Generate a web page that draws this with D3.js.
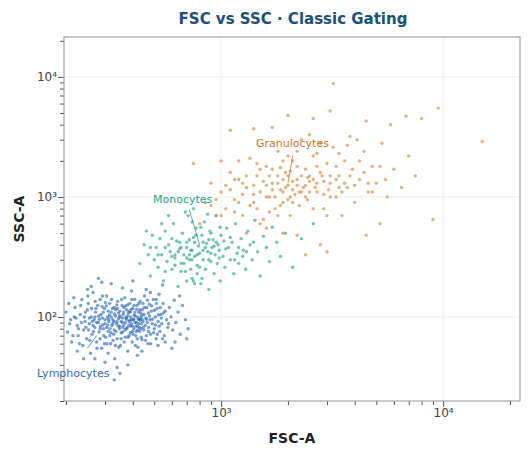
<!DOCTYPE html>
<html><head><meta charset="utf-8">
<script src="https://cdn.jsdelivr.net/npm/d3@7"></script>
<style>body{margin:0;background:#fff;font-family:"DejaVu Sans",sans-serif}</style>
</head><body><svg id="c" width="531" height="458"></svg>
<script>
const lymphocytes = [
[210,95],[215,70],[220,120],[225,85],[230,60],[232,105],[236,140],[240,78],[244,92],[248,66],[250,115],[252,130],[255,88],[258,50],[260,100],[262,72],[265,160],[268,95],[270,82],[272,110],[275,62],[278,125],[280,90],[282,75],[285,140],[288,105],[290,55],[292,98],[295,80],[298,118],[300,88],[302,68],[305,150],[308,100],[310,76],[312,92],[315,130],[318,60],[320,110],[322,85],[325,95],[328,72],[330,120],[332,45],[335,102],[338,88],[340,66],[342,135],[345,97],[348,80],[350,112],[352,58],[355,92],[358,125],[360,75],[362,105],[365,86],[368,145],[370,68],[372,98],[375,115],[378,82],[380,52],[382,108],[385,92],[388,130],[390,74],[392,100],[395,88],[398,62],[400,118],[402,95],[405,80],[408,140],[410,102],[412,70],[415,90],[418,125],[420,84],[422,56],[425,110],[428,96],[430,76],[432,135],[435,100],[438,88],[440,65],[442,115],[445,92],[448,78],[450,105],[452,150],[455,85],[458,98],[460,70],[462,120],[465,90],[468,60],[470,108],[472,82],[475,128],[478,95],[480,72],[485,112],[490,88],[495,140],[500,80],[505,100],[510,66],[515,118],[520,92],[525,155],[530,76],[535,105],[540,88],[548,130],[555,70],[560,112],[568,95],[575,82],[585,120],[595,100],[605,78],[615,138],[625,90],[640,110],[655,72],[670,125],[690,95],[710,80],
[225,52],[240,45],[260,180],[280,210],[300,42],[320,190],[340,38],[360,175],[380,40],[400,200],[420,48],[460,170],[520,58],[560,62],[600,55],[650,150],[700,66],[350,34],[330,30],[290,195],[250,170],[270,45],[310,50],[395,165],[440,52],[480,160],[510,140],[580,88],[620,62],[545,185],
[300,95],[305,82],[310,112],[315,70],[320,100],[325,88],[330,78],[335,115],[340,92],[345,108],[350,84],[355,74],[360,98],[365,120],[370,90],[375,80],[380,102],[385,70],[390,110],[395,95],[400,84],[405,125],[410,90],[415,76],[420,100],[425,88],[430,115],[435,80],[440,96],[445,130],[270,100],[275,90],[285,80],[295,110],[265,85],[255,98],[245,110],[235,90],[228,80],[218,100],
[200,110],[203,75],[206,130],[208,88],[212,62],[217,145],[222,98],[227,70],[233,125],[238,58],[242,100],[246,82],[251,150],[256,64],[261,118],[266,76],[271,135],[276,55],[281,102],[286,84],[291,122],[296,70],[301,132],[306,60],[311,96],[316,80],[321,140],[326,64],[331,106],[336,76],[341,118],[346,56],[351,100],[356,140],[361,82],[366,62],[371,124],[376,96],[381,68],[386,112],[391,84],[396,140],[401,72],[406,104],[411,58],[416,116],[421,78],[426,130],[431,94],[436,68],[441,104],[446,82],[451,120],[456,64],[461,96],[466,138],[471,76],[476,102],[481,60],[486,124],[491,96],[496,74],[501,114],[506,86],[511,130],[516,72],[521,104],[526,84],[532,120],[538,98],[544,66],[550,108],[285,66],[292,150],[298,60],[304,124],[309,86],[314,104],[319,74],[324,118],[329,92],[334,58],[339,126],[344,84],[349,102],[354,66],[359,90],[364,110],[369,78],[374,100],[379,126],[384,86],[389,94],[394,116],[399,76],[404,96],[409,110],[414,84],[419,66],[424,96],[429,82],[434,108],[253,78],[263,92],[273,118],[283,96],[293,86]
];
const monocytes = [
[430,280],[450,400],[470,330],[480,220],[490,480],[500,300],[510,380],[520,260],[530,450],[540,330],[550,200],[560,520],[570,290],[580,400],[590,350],[600,250],[610,600],[620,310],[630,430],[640,180],[650,370],[660,280],[670,500],[680,330],[690,240],[700,420],[710,700],[720,300],[730,360],[740,210],[750,460],[760,320],[770,550],[780,270],[790,390],[800,340],[810,190],[820,480],[830,300],[840,620],[850,250],[860,410],[870,350],[880,170],[890,520],[900,290],[910,380],[920,440],[930,230],[940,330],[950,700],[960,280],[970,400],[980,360],[990,200],[1000,480],[1020,320],[1040,260],[1060,550],[1080,380],[1100,300],[1120,420],[1140,230],[1160,600],[1180,340],[1200,280],[1230,450],[1260,360],[1290,250],[1320,520],[1350,400],[1380,300],[1420,640],[1460,350],[1500,220],[1550,470],[1600,380],[1650,290],[1700,560],[1780,420],[1850,320],[1950,500],[2100,260],[2300,450],[2600,600],[650,420],[700,380],[720,330],[760,420],[680,280],[740,300],[800,260],[850,380],[640,350],[600,450],[560,380],[700,200],[760,190],[820,210],[900,340],[950,420],[1050,370],[1100,460],[1200,380],[1250,320],[580,700],[690,750],[750,800],[870,720],[540,600],[460,520],
[620,330],[660,380],[700,310],[740,360],[780,330],[830,360],[880,300],[930,390],[980,310],[1030,430],[730,250],[780,230],[830,420],[880,440],[660,240],[620,270],[600,320],[720,440],[770,480],[1150,300],[1300,350],[1400,420],[990,560],[900,500],[810,560],[740,620],[520,330],[480,380],[560,240],[750,200]
];
const granulocytes = [
[800,600],[850,900],[900,1300],[950,700],[1000,1100],[1050,800],[1100,1600],[1150,950],[1200,1400],[1250,700],[1300,1200],[1350,2100],[1400,900],[1450,1500],[1500,1100],[1550,650],[1600,1800],[1650,1000],[1700,1300],[1750,800],[1800,2400],[1850,1150],[1900,900],[1950,1600],[2000,1250],[2050,700],[2100,2000],[2150,1050],[2200,1400],[2250,850],[2300,3000],[2350,1200],[2400,1700],[2450,950],[2500,1350],[2600,2200],[2700,1100],[2800,1600],[2900,800],[3000,1900],[3100,1300],[3200,2600],[3300,1000],[3400,1500],[3500,700],[3600,2000],[3700,1200],[3800,3200],[3900,1700],[4000,900],[4200,1400],[4400,2400],[4600,1100],[4800,1800],[5000,1300],[5300,2800],[5600,1000],[6000,1700],[6500,1200],[7000,2200],[7500,1500],[8000,4500],[9000,650],[9500,5500],[15000,2900],[5200,600],[4500,480],[3000,350],[2800,400],[2400,330],[2200,480],[1900,500],[1600,550],[1400,3700],[1200,2000],[1100,3600],[2000,4800],[2600,4500],[3200,8800],[3100,5200],[4500,4300],[6800,4700],[5800,4000],[1700,3800],[1000,2000],[750,1900],[1300,500],[1500,600],[1800,700],[2100,900],[2300,1100],[2500,1500],[2700,1300],[2900,1050],[3100,1500],[3300,1800],[3500,1100],[2000,1500],[1800,1300],[1600,1000],[1400,1250],[1700,1700],[1900,1100],[2100,1350],[2200,1800],[2400,1250],[1750,1000],[1850,850],[1950,1200],[2050,1000],[1550,1350],[1650,750],[1350,850],[1250,1050],[1150,750],[950,950],[2600,800],[3000,700],[3400,1200],[3800,1500],[4200,2000],[4600,1300],[5200,1800],[2800,2800],[2500,3300],[2200,2400],[1900,2000],[3700,2700],[4100,3000],[1450,1900],[1050,1250],[900,850],
[1300,1500],[1500,1700],[1700,1150],[1900,1400],[2100,1150],[2300,1500],[2500,1100],[2700,1800],[2900,1350],[3100,1000],[3300,1400],[1600,1250],[1800,1500],[2000,950],[2200,1250],[2400,1000],[2600,1400],[1400,1050],[1200,900],[1100,1150],[1250,1300],[1450,800],[1650,1500],[1850,1750],[2050,1650],[2250,1100],[2450,1450],[2650,1200],[2850,1500],[3050,1150],[3600,1300],[4000,1250],[4400,1600],[4800,1100],[5500,1400],[1000,700],[1150,1400],[2000,2200],[2700,2300],[3400,2300]
];
const xTicks=[1000,10000], yTicks=[100,1000,10000];
const svg=d3.select("#c");
const m={l:64,r:11,t:37,b:57},W=531,H=458;
const x=d3.scaleLog().domain([196,22200]).range([m.l,W-m.r]);
const y=d3.scaleLog().domain([20,21500]).range([H-m.b,m.t]);
svg.append("text").attr("x",293).attr("y",24).attr("text-anchor","middle").attr("font-size",15).attr("font-weight","bold").attr("fill","#1f4e79").text("FSC vs SSC · Classic Gating");
const g=svg.append("g");
xTicks.forEach(t=>g.append("line").attr("x1",x(t)).attr("x2",x(t)).attr("y1",m.t).attr("y2",H-m.b).attr("stroke","#eee"));
yTicks.forEach(t=>g.append("line").attr("y1",y(t)).attr("y2",y(t)).attr("x1",m.l).attr("x2",W-m.r).attr("stroke","#eee"));
const sup=t=>"10"+"⁰¹²³⁴"[Math.round(Math.log10(t))];
const xa=svg.append("g").attr("transform",`translate(0,${H-m.b})`).call(d3.axisBottom(x).tickValues(x.ticks().filter(t=>t>=196)).tickFormat(t=>xTicks.includes(t)?sup(t):"").tickSize(4));
const ya=svg.append("g").attr("transform",`translate(${m.l},0)`).call(d3.axisLeft(y).tickValues(y.ticks()).tickFormat(t=>yTicks.includes(t)?sup(t):"").tickSize(4));
[xa,ya].forEach(a=>{a.select(".domain").remove();a.selectAll("line").attr("stroke","#555");a.selectAll("text").attr("font-size",12).attr("fill","#444").attr("font-family","DejaVu Sans");});
xa.selectAll(".tick").filter(t=>xTicks.includes(t)).select("line").attr("y2",6);
ya.selectAll(".tick").filter(t=>yTicks.includes(t)).select("line").attr("x2",-6);
const groups=[[lymphocytes,"#2e6bb5"],[monocytes,"#26a38c"],[granulocytes,"#d8843c"]];
groups.forEach(([d,c])=>svg.append("g").selectAll("circle").data(d).join("circle").attr("cx",p=>x(p[0])).attr("cy",p=>y(p[1])).attr("r",1.7).attr("fill",c).attr("opacity",0.65));
svg.append("rect").attr("x",m.l).attr("y",m.t).attr("width",W-m.l-m.r).attr("height",H-m.t-m.b).attr("fill","none").attr("stroke","#8a949e");
const ann=[["Lymphocytes",37,377,"#2e6bb5",[[250,55],[275,70]]],["Monocytes",153,203,"#26a38c",[[720,780],[800,400]]],["Granulocytes",256,147,"#c8772f",[[2100,2200],[2000,1300]]]];
ann.forEach(([t,tx,ty,c,l])=>{svg.append("line").attr("x1",x(l[0][0])).attr("y1",y(l[0][1])).attr("x2",x(l[1][0])).attr("y2",y(l[1][1])).attr("stroke",c).attr("stroke-width",0.8);
svg.append("text").attr("x",tx).attr("y",ty).attr("font-size",11).attr("fill",c).text(t);});
svg.append("text").attr("x",292).attr("y",443).attr("text-anchor","middle").attr("font-size",14).attr("font-weight","bold").attr("fill","#222").text("FSC-A");
svg.append("text").attr("transform","translate(24,219) rotate(-90)").attr("text-anchor","middle").attr("font-size",14).attr("font-weight","bold").attr("fill","#222").text("SSC-A");
</script></body></html>
